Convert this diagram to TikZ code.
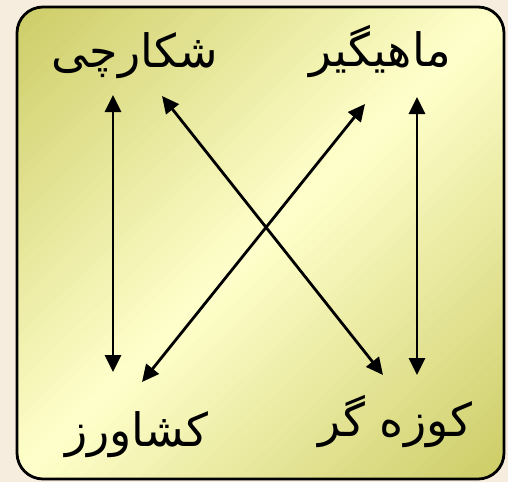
\documentclass[tikz,border=0pt]{standalone}
\usepackage{fontspec}
\usetikzlibrary{arrows.meta}
\TeXXeTstate=1
\newfontfamily\arabicfont[Script=Arabic]{DejaVu Sans}
\definecolor{pagebg}{HTML}{F7EDDF}
\definecolor{darkolive}{HTML}{CCCC66}
\definecolor{lightyel}{HTML}{FFFFCC}
\tikzset{
  wordlabel/.style={font=\arabicfont\fontsize{46}{52}\selectfont, inner sep=0pt},
  link/.style={line width=2.8pt, {Triangle[length=17pt,width=16pt]}-{Triangle[length=17pt,width=16pt]}}
}
\begin{document}
\begin{tikzpicture}[x=1pt,y=-1pt]
\fill[pagebg] (0,0) rectangle (508,482);
\useasboundingbox (0,0) rectangle (508,482);
\begin{scope}
\clip[rounded corners=26pt] (17,7) rectangle (504,479);
\foreach \i in {0,...,79}{
  \pgfmathsetmacro{\ca}{2*\i/80}
  \pgfmathsetmacro{\cb}{2*(\i+1)/80+0.004}
  \pgfmathsetmacro{\pp}{100*abs((\ca+\cb)/2-1)}
  \fill[darkolive!\pp!lightyel]
    ({17+487*(\ca+1)},-465) -- ({17+487*\ca-1461},1423) --
    ({17+487*\cb-1461},1423) -- ({17+487*(\cb+1)},-465) -- cycle;
}
\end{scope}
\draw[line width=2.8pt, rounded corners=26pt] (17,7) rectangle (504,479);
\node[wordlabel] (hunter) at (135,56) {\beginR شکارچی\endR};
\node[wordlabel] (fisher) at (380,52) {\beginR ماهیگیر\endR};
\node[wordlabel] (farmer) at (137,435) {\beginR کشاورز\endR};
\node[wordlabel] (potter) at (395,421) {\beginR کوزه گر\endR};
\coordinate (h1) at (113,95);
\coordinate (f1) at (113,372);
\coordinate (m1) at (417,97);
\coordinate (p1) at (417,375);
\coordinate (h2) at (162,96);
\coordinate (p2) at (383,375);
\coordinate (m2) at (365,104);
\coordinate (f2) at (142,382);
\draw[link] (h1) -- (f1);
\draw[link] (m1) -- (p1);
\draw[link] (h2) -- (p2);
\draw[link] (m2) -- (f2);
\end{tikzpicture}
\end{document}
